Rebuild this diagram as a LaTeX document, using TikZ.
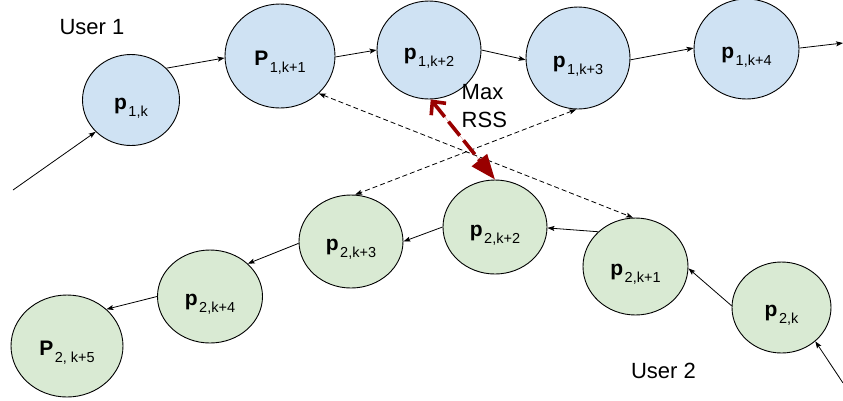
\documentclass[tikz,border=0pt]{standalone}
\usepackage{fontspec}
\setmainfont{Liberation Sans}
\usetikzlibrary{shapes.geometric,arrows.meta}
\definecolor{ublue}{HTML}{CFE2F3}
\definecolor{ugreen}{HTML}{D9EAD3}
\definecolor{rssred}{RGB}{153,0,0}
% position node: bold letter with a lowered subscript
\newcommand{\posn}[2]{{\fontsize{21}{21}\selectfont\bfseries #1}\kern1.5pt\raisebox{-7pt}{\fontsize{14.5}{14.5}\selectfont #2}}
\tikzset{
  pos/.style args={#1/#2}{ellipse, draw=black, line width=0.9pt, inner sep=0pt,
    minimum width=#1, minimum height=#2, text height=18pt, text depth=0pt},
  u1/.style={fill=ublue},
  u2/.style={fill=ugreen},
  hop/.style={-{Stealth[length=7pt,width=5pt,inset=1.5pt]}, line width=0.8pt},
  link/.style={{Stealth[length=7pt,width=5pt,inset=1.5pt]}-{Stealth[length=7pt,width=5pt,inset=1.5pt]},
    line width=0.8pt, dash pattern=on 5pt off 3pt},
  rss/.style={{Straight Barb[length=10pt,width=19pt]}-{Triangle[length=25pt,width=19pt]},
    draw=rssred, fill=rssred, line width=3.6pt, dash pattern=on 18pt off 6pt},
  tag/.style={font=\fontsize{22}{28}\selectfont, align=left}
}
\begin{document}
\begin{tikzpicture}[x=1pt,y=-1pt]
\useasboundingbox (0,0) rectangle (843,400);

% user 1 trajectory
\node[pos=97pt/91pt, u1]   (a0) at (131,100)   {\posn{p}{1,k}};
\node[pos=110pt/104pt, u1] (a1) at (280,56)    {\posn{P}{1,k+1}};
\node[pos=104pt/98pt, u1]  (a2) at (429,50)    {\posn{p}{1,k+2}};
\node[pos=104pt/102pt, u1] (a3) at (578,58)    {\posn{p}{1,k+3}};
\node[pos=105pt/100pt, u1] (a4) at (746.5,49)  {\posn{p}{1,k+4}};

% user 2 trajectory
\node[pos=99pt/91pt, u2]   (b0) at (781.5,307.5) {\posn{p}{2,k}};
\node[pos=105pt/97pt, u2]  (b1) at (635.5,266.5) {\posn{p}{2,k+1}};
\node[pos=104pt/94pt, u2]  (b2) at (495,227)     {\posn{p}{2,k+2}};
\node[pos=104pt/93pt, u2]  (b3) at (351,241.5)   {\posn{p}{2,k+3}};
\node[pos=105pt/93pt, u2]  (b4) at (210,296.5)   {\posn{p}{2,k+4}};
\node[pos=112pt/102pt, u2] (b5) at (67,346)      {\posn{P}{2, k+5}};

\coordinate (a-in)  at (13,190);
\coordinate (a-out) at (843,43);
\coordinate (b-in)  at (843,383);

% user 1 hops
\draw[hop] (a-in) -- (a0.222);
\draw[hop] (a0.42) -- (a1.182);
\draw[hop] (a1.359) -- (a2.180);
\draw[hop] (a2.0) -- (a3.182);
\draw[hop] (a3.358) -- (a4.179);
\draw[hop] (a4.1) -- (a-out);

% user 2 hops
\draw[hop] (b-in) -- (b0.315);
\draw[hop] (b0.178) -- (b1.358);
\draw[hop] (b1.137) -- (b2.359);
\draw[hop] (b2.180) -- (b3.0);
\draw[hop] (b3.182) -- (b4.41);
\draw[hop] (b4.180) -- (b5.43);

% cross links between the users
\draw[link] (a1.316) -- (b1.93);
\draw[link] (a3.268) -- (b3.85);
\draw[rss] (a2.272) -- (b2.90);

% labels
\node[tag] (u1) at (92,27) {User 1};
\node[tag] (u2) at (663.5,371) {User 2};
\node[tag, anchor=north west, inner sep=0pt] (mx) at (461.5,84) {Max\\RSS};
\end{tikzpicture}
\end{document}
